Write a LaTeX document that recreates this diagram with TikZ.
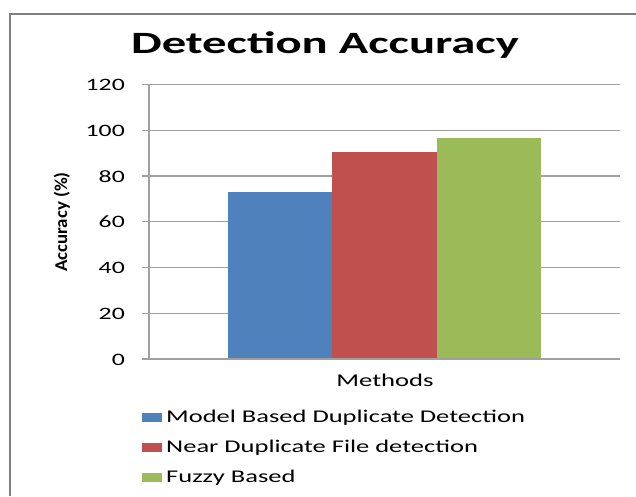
\documentclass[tikz,border=0pt]{standalone}
\usepackage{fontspec}
\setmainfont{Carlito}[FakeStretch=1.48]
\newfontfamily\titlefont{Carlito}[FakeStretch=1.57]
\newfontfamily\ylabfont{Carlito}[FakeStretch=1.05]
\definecolor{barblue}{RGB}{79,129,189}
\definecolor{barred}{RGB}{192,80,77}
\definecolor{bargreen}{RGB}{155,187,89}
\definecolor{gridgray}{RGB}{160,160,160}
\definecolor{framegray}{RGB}{128,128,128}

\begin{document}
\begin{tikzpicture}[x=1pt,y=-1pt]
                        \useasboundingbox (0,0) rectangle (636,496);
                        \draw[framegray, line width=2pt] (10,496) -- (10,14) -- (636,14);
                        \node[anchor=base, font=\titlefont\bfseries\fontsize{31}{31}\selectfont, inner sep=0pt] (title) at (325,53.3) {Detection Accuracy};
                        \foreach \v in {0,20,...,120}
                            {\draw[gridgray, line width=1.2pt] (142,{359-\v*2.2875}) -- (620,{359-\v*2.2875});
                             \node[anchor=base east, font=\fontsize{17.4}{17.4}\selectfont, inner sep=0pt] (tick\v) at (125,{365-\v*2.2875}) {\v};}
                        \draw[gridgray, line width=1.2pt] (149,84.5) -- (149,359);
                        \draw[fill = barblue, draw = none] (228.3,359) rectangle (332,{359-72.9*2.2875});
                        \draw[fill = barred, draw = none] (332,359) rectangle (437,{359-90.5*2.2875});
                        \draw[fill = bargreen, draw = none] (437,359) rectangle (540.7,{359-96.6*2.2875});
                        \draw[gridgray, line width=1.2pt] (149,359) -- (620,359);
                        \node[rotate=90, anchor=base, font=\ylabfont\bfseries\fontsize{18}{18}\selectfont, inner sep=0pt] (ylab) at (67,222) {Accuracy (\%)};
                        \node[anchor=base, font=\fontsize{18}{18}\selectfont, inner sep=0pt] (xlab) at (385,386.7) {Methods};
                        \foreach \c/\t [count=\i] in {barblue/Model Based Duplicate Detection,barred/Near Duplicate File detection,bargreen/Fuzzy Based}
                            {\fill[\c] (142,{412.5+(\i-1)*30.2}) rectangle ++(19.5,9);
                             \node[anchor=base west, font=\fontsize{17.9}{17.9}\selectfont, inner sep=0pt] (leg\i) at (166,{422.3+(\i-1)*30.2}) {\t};}
                    \end{tikzpicture}
\end{document}
